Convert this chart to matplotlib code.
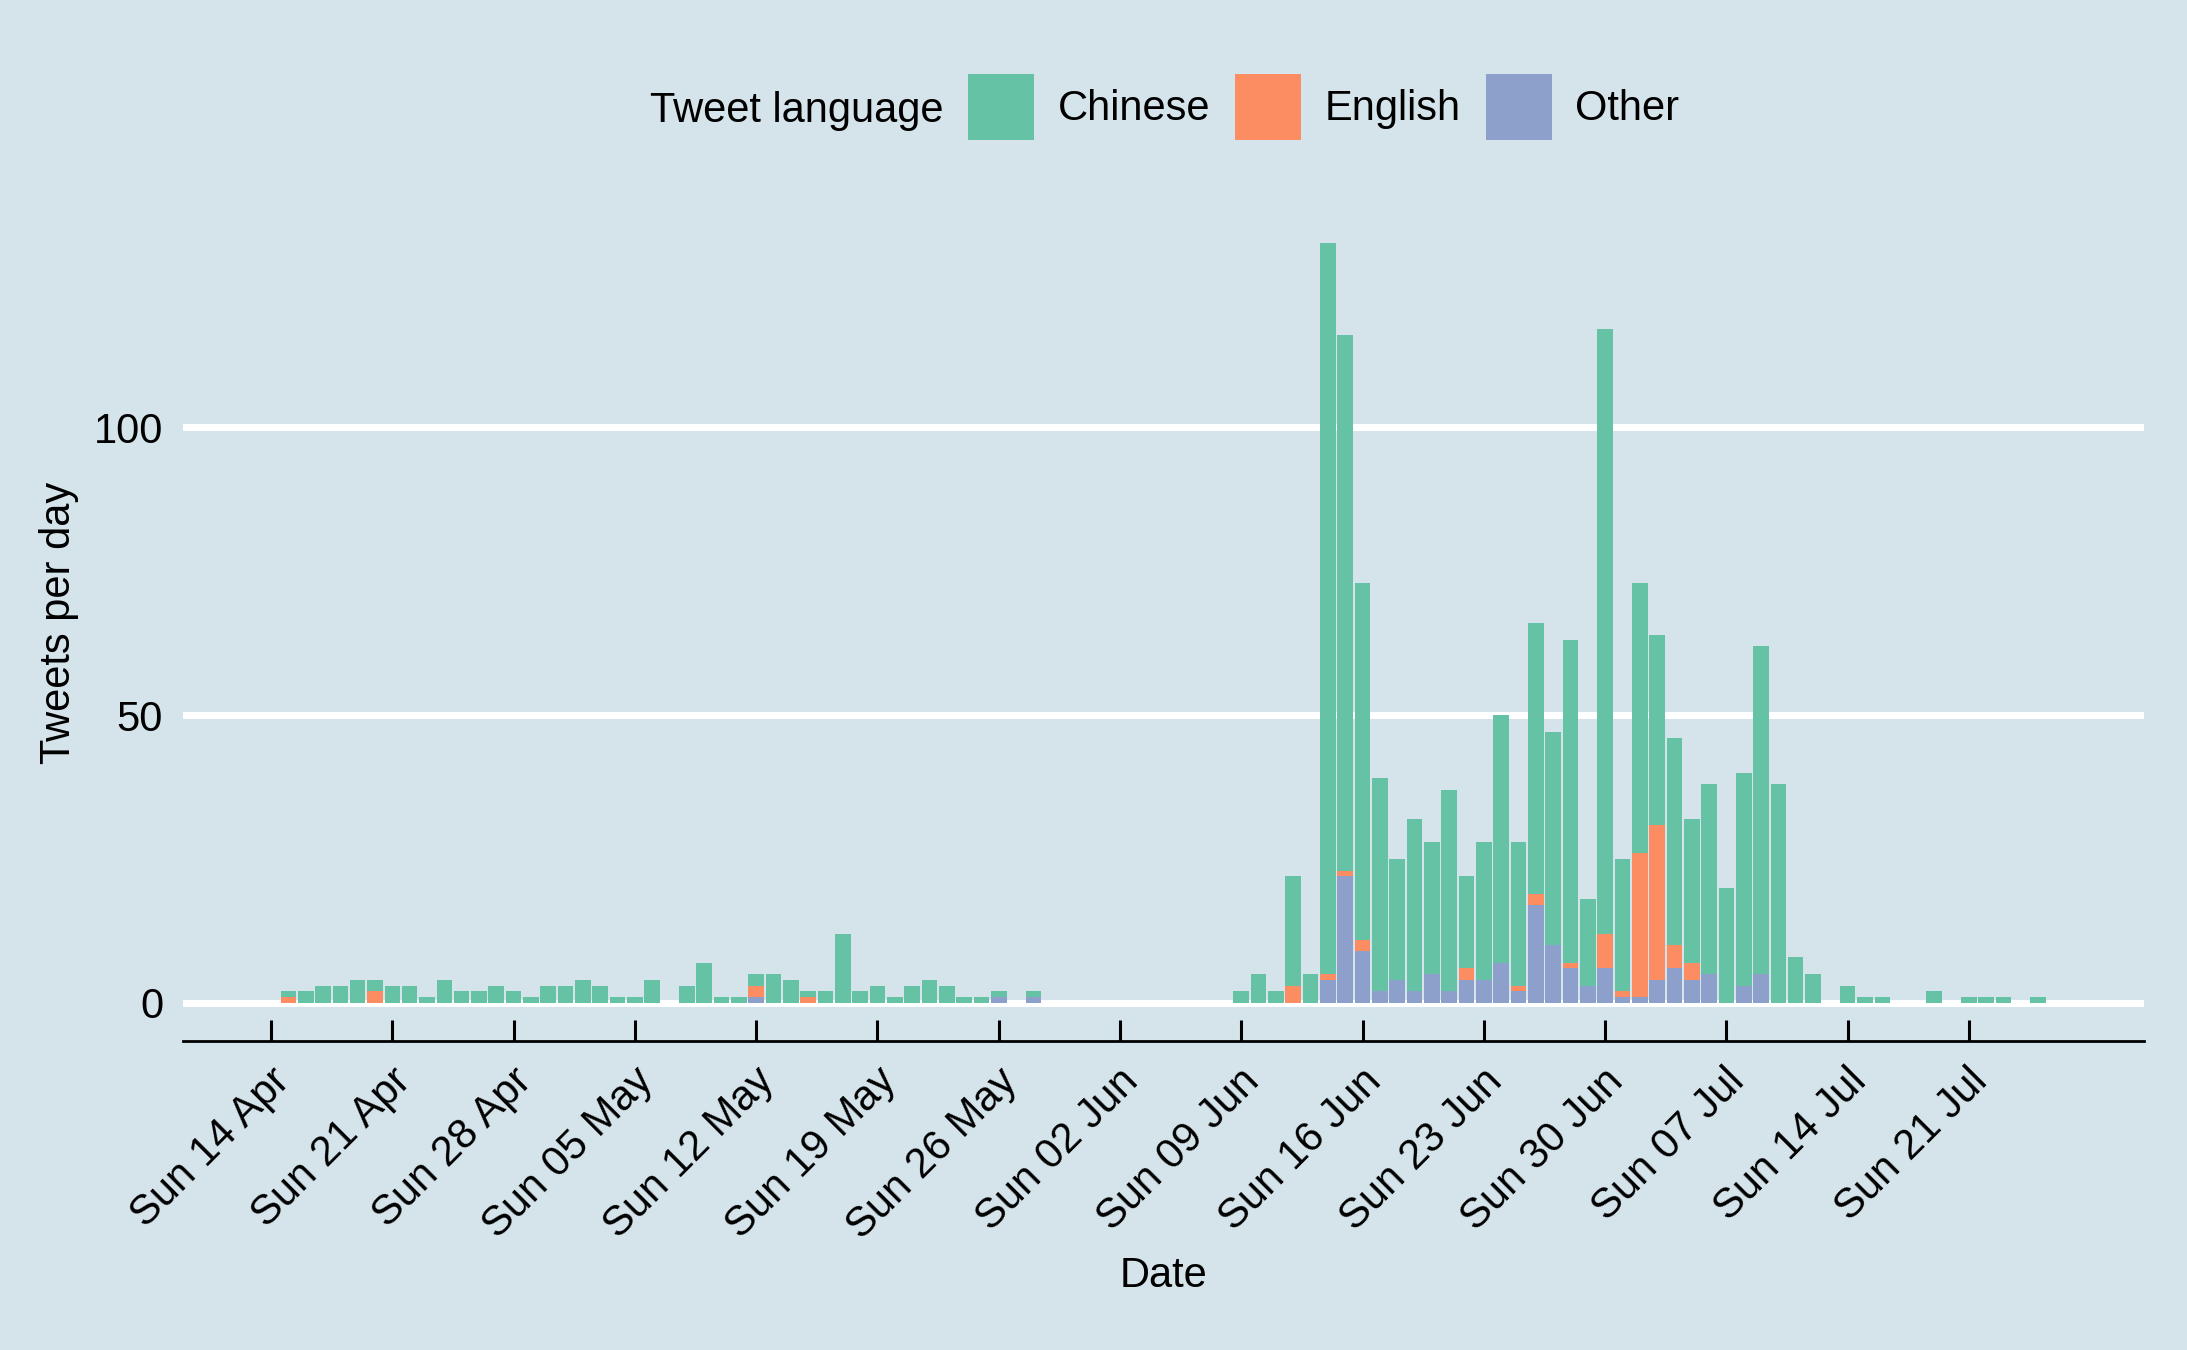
import pandas as pd
import matplotlib
matplotlib.use("Agg")
import matplotlib.pyplot as plt
import matplotlib.dates as mdates
from matplotlib.patches import Patch
from matplotlib.transforms import ScaledTranslation

# daily tweet counts, 15 Apr - 25 Jul 2019 (one row per week, Mon..Sun)
start_date = "2019-04-15"
end_date = "2019-07-25"

chinese = [1, 2, 3, 3, 4, 2, 3,
           3, 1, 4, 2, 2, 3, 2,
           1, 3, 3, 4, 3, 1, 1,
           4, 0, 3, 7, 1, 1, 2,
           5, 4, 1, 2, 12, 2, 3,
           1, 3, 4, 3, 1, 1, 1,
           0, 1, 0, 0, 0, 0, 0,
           0, 0, 0, 0, 0, 0, 2,
           5, 2, 19, 5, 127, 93, 62,
           37, 21, 30, 23, 35, 16, 24,
           43, 25, 47, 37, 56, 15, 105,
           23, 47, 33, 36, 25, 33, 20,
           37, 57, 38, 8, 5, 0, 3,
           1, 1, 0, 0, 2, 0, 1,
           1, 1, 0, 1]
english = [1, 0, 0, 0, 0, 2, 0,
           0, 0, 0, 0, 0, 0, 0,
           0, 0, 0, 0, 0, 0, 0,
           0, 0, 0, 0, 0, 0, 2,
           0, 0, 1, 0, 0, 0, 0,
           0, 0, 0, 0, 0, 0, 0,
           0, 0, 0, 0, 0, 0, 0,
           0, 0, 0, 0, 0, 0, 0,
           0, 0, 3, 0, 1, 1, 2,
           0, 0, 0, 0, 0, 2, 0,
           0, 1, 2, 0, 1, 0, 6,
           1, 25, 27, 4, 3, 0, 0,
           0, 0, 0, 0, 0, 0, 0,
           0, 0, 0, 0, 0, 0, 0,
           0, 0, 0, 0]
other = [0, 0, 0, 0, 0, 0, 0,
         0, 0, 0, 0, 0, 0, 0,
         0, 0, 0, 0, 0, 0, 0,
         0, 0, 0, 0, 0, 0, 1,
         0, 0, 0, 0, 0, 0, 0,
         0, 0, 0, 0, 0, 0, 1,
         0, 1, 0, 0, 0, 0, 0,
         0, 0, 0, 0, 0, 0, 0,
         0, 0, 0, 0, 4, 22, 9,
         2, 4, 2, 5, 2, 4, 4,
         7, 2, 17, 10, 6, 3, 6,
         1, 1, 4, 6, 4, 5, 0,
         3, 5, 0, 0, 0, 0, 0,
         0, 0, 0, 0, 0, 0, 0,
         0, 0, 0, 0]

languages = ["Chinese", "English", "Other"]
colors = {"Chinese": "#66c2a5", "English": "#fc8d62", "Other": "#8da0cb"}
bg = "#d5e4eb"

plt.rcParams["font.family"] = ["Liberation Sans", "DejaVu Sans"]
plt.rcParams["font.size"] = 15

dates = pd.date_range(start_date, end_date, freq="D")
fig = plt.figure(figsize=(10.935, 6.75), dpi=200, facecolor=bg)
ax = fig.add_axes([0.0837, 0.2289, 0.8966, 0.6192], facecolor=bg)

# stack: Other at the bottom, then English, then Chinese
bottom_eng = other
bottom_chi = [o + e for o, e in zip(other, english)]
ax.bar(dates, other, width=0.9, color=colors["Other"], zorder=3)
ax.bar(dates, english, width=0.9, bottom=bottom_eng, color=colors["English"], zorder=3)
ax.bar(dates, chinese, width=0.9, bottom=bottom_chi, color=colors["Chinese"], zorder=3)

x0 = pd.Timestamp("2019-04-14")
ax.set_xlim(mdates.date2num(x0) - 5.08, mdates.date2num(x0) + 108.1)
ax.set_ylim(-6.6, 138.6)

# axes styling
for side in ["left", "right", "top"]:
    ax.spines[side].set_visible(False)
ax.spines["bottom"].set_linewidth(1.0)
ax.spines["bottom"].set_color("black")

ax.set_yticks([0, 50, 100])
ax.yaxis.grid(True, color="white", linewidth=2.5, zorder=1)
ax.set_axisbelow(True)
ax.tick_params(axis="y", length=0, pad=7.2, labelsize=15)

sundays = pd.date_range("2019-04-14", "2019-07-21", freq="7D")
ax.set_xticks(sundays)
ax.xaxis.set_major_formatter(mdates.DateFormatter("%a %d %b"))
ax.tick_params(axis="x", direction="in", length=7.6, width=1.1, pad=7.2, labelsize=15)
shift = ScaledTranslation(-2 / 200, 0, fig.dpi_scale_trans)
for lbl in ax.get_xticklabels():
    lbl.set_rotation(45)
    lbl.set_ha("right")
    lbl.set_va("top")
    lbl.set_rotation_mode("anchor")
    lbl.set_transform(lbl.get_transform() + shift)

ax.set_xlabel("Date", fontsize=15, va="center")
ax.xaxis.set_label_coords(0.5, -0.281)
ax.set_ylabel("Tweets per day", fontsize=15, va="center")
ax.yaxis.set_label_coords(-0.0632, 0.5)

# legend with the title on the left
fig.text(943 / 2187, 0.918, "Tweet language", ha="right", va="center", fontsize=15)
handles = [Patch(facecolor=colors[k], edgecolor="none") for k in languages]
fig.legend(handles, languages, loc="center left", bbox_to_anchor=(968 / 2187, 0.9207),
           ncol=3, frameon=False, borderpad=0, borderaxespad=0,
           handlelength=1.58, handleheight=2.06, handletextpad=0.57,
           columnspacing=0.6, fontsize=15)

fig.savefig("out.png", dpi=200, facecolor=bg)
